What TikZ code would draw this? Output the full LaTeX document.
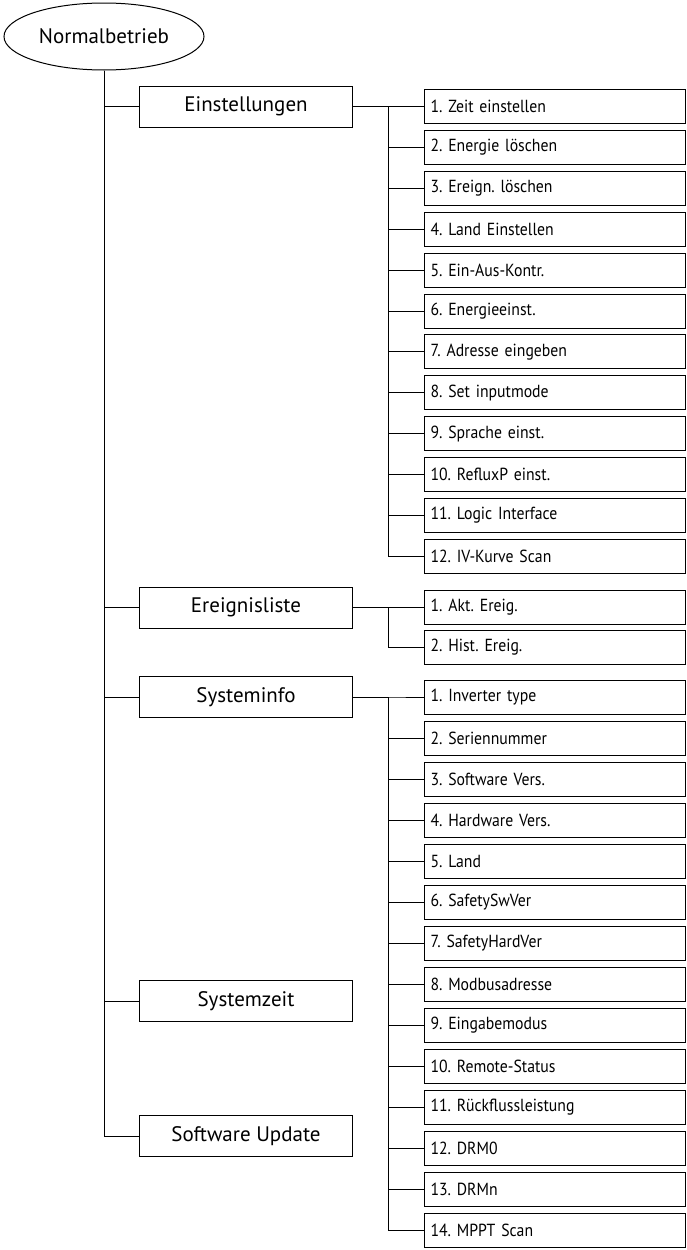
\documentclass[tikz,border=0pt]{standalone}
\usepackage{fontspec}
\setmainfont{PT Sans}
\newfontfamily\subfont{PT Sans}[FakeStretch=0.9, WordSpace=0.8]
\frenchspacing
\usetikzlibrary{shapes.geometric}
\tikzset{
  conn/.style={draw=black, line width=1pt},
  rootnode/.style={ellipse, draw=black, line width=1pt, minimum width=200pt, minimum height=67pt, inner sep=0pt, font=\fontsize{21}{25}\selectfont},
  mainbox/.style={rectangle, draw=black, line width=1pt, minimum width=213pt, minimum height=41pt, inner sep=0pt, font=\fontsize{21}{25}\selectfont},
  subbox/.style={rectangle, draw=black, line width=1pt, text width=249pt, align=left, inner xsep=6pt, inner ysep=0pt, minimum height=34pt, anchor=west, font=\subfont\fontsize{17.5}{21}\selectfont},
}
\begin{document}
\begin{tikzpicture}[x=1pt,y=-1pt]
\path[use as bounding box] (0,0) rectangle (686,1250);
\node[rootnode] (root) at (104,36.5) {Normalbetrieb};
\node[mainbox] (ein) at (246,106.5) {Einstellungen};
\node[mainbox] (erg) at (246,607.5) {Ereignisliste};
\node[mainbox] (sys) at (246,697) {Systeminfo};
\node[mainbox] (szt) at (246,1001) {Systemzeit};
\node[mainbox] (swu) at (246,1136) {Software Update};
\foreach \n in {ein,erg,sys,szt,swu} \draw[conn] (root.south) |- (\n.west);
% Einstellungen children
\foreach \t [count=\i] in {1. Zeit einstellen,2. Energie löschen,3. Ereign. löschen,4. Land Einstellen,5. Ein-Aus-Kontr.,6. Energieeinst.,7. Adresse eingeben,8. Set inputmode,9. Sprache einst.,10. RefluxP einst.,11. Logic Interface,12. IV-Kurve Scan}{
  \node[subbox] (ein\i) at (424,{106.5+40.9*(\i-1)}) {\t};
  \draw[conn] (ein.east) -- ++(35,0) |- (ein\i.west);
}
% Ereignisliste children
\foreach \t [count=\i] in {1. Akt. Ereig.,2. Hist. Ereig.}{
  \node[subbox] (erg\i) at (424,{607.5+40*(\i-1)}) {\t};
  \draw[conn] (erg.east) -- ++(35,0) |- (erg\i.west);
}
% Systeminfo children
\foreach \t [count=\i] in {1. Inverter type,2. Seriennummer,3. Software Vers.,4. Hardware Vers.,5. Land,6. SafetySwVer,7. SafetyHardVer,8. Modbusadresse,9. Eingabemodus,10. Remote-Status,11. Rückflussleistung,12. DRM0,13. DRMn,14. MPPT Scan}{
  \node[subbox] (sys\i) at (424,{697+41*(\i-1)}) {\t};
  \draw[conn] (sys.east) -- ++(35,0) |- (sys\i.west);
}
\end{tikzpicture}
\end{document}
